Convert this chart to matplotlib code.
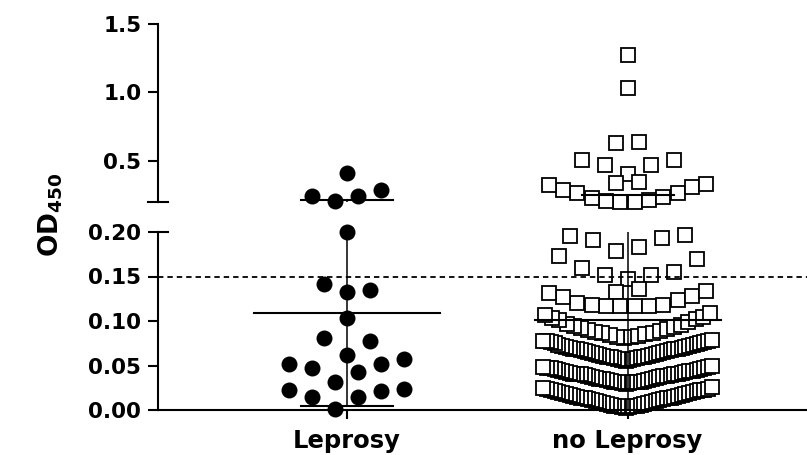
import matplotlib.pyplot as plt
import numpy as np

plt.rcParams['font.family'] = ['DejaVu Sans']
plt.rcParams['font.weight'] = 'bold'

categories = ['Leprosy', 'no Leprosy']
cutoff = 0.15

# rows of points as Prism lays them out (values, OD450)
lep_upper = [[0.415], [0.210, 0.244, 0.246, 0.288]]
lep_lower = [[0.200], [0.133, 0.135, 0.142], [0.103], [0.062, 0.078, 0.081],
             [0.032, 0.043, 0.047, 0.052, 0.052, 0.057],
             [0.001, 0.015, 0.015, 0.021, 0.023, 0.024]]

no_upper = [[1.273], [1.036], [0.631, 0.636], [0.406, 0.472, 0.472, 0.509, 0.509],
            [0.337, 0.349],
            [0.201, 0.201, 0.207, 0.215, 0.227, 0.239, 0.264, 0.264, 0.288, 0.308, 0.322, 0.330]]
no_row_a = [0.179, 0.183, 0.191, 0.193, 0.196, 0.197]
no_row_b = [0.147, 0.152, 0.152, 0.155, 0.159, 0.170, 0.173]
no_row_c = [0.133, 0.136]
no_row_d = [0.117, 0.117, 0.117, 0.117, 0.118, 0.118, 0.120, 0.124, 0.127, 0.128, 0.131, 0.134]
no_row_e = [0.081, 0.082, 0.082, 0.083, 0.084, 0.085, 0.086, 0.087, 0.088, 0.089, 0.090, 0.091,
            0.092, 0.093, 0.094, 0.095, 0.097, 0.099, 0.101, 0.102, 0.103, 0.105, 0.107, 0.109]
no_band1 = [0.055, 0.056, 0.056, 0.057, 0.057, 0.058, 0.058, 0.059, 0.059, 0.060, 0.060, 0.061,
            0.061, 0.062, 0.062, 0.063, 0.063, 0.064, 0.064, 0.065, 0.065, 0.066, 0.066, 0.067,
            0.067, 0.068, 0.068, 0.069, 0.069, 0.070, 0.070, 0.071, 0.071, 0.072, 0.072, 0.073,
            0.073, 0.074, 0.075, 0.075, 0.076, 0.076, 0.077, 0.077, 0.078, 0.079]
no_band2 = [0.029, 0.030, 0.030, 0.031, 0.031, 0.032, 0.032, 0.032, 0.033, 0.033, 0.034, 0.034,
            0.035, 0.035, 0.035, 0.036, 0.036, 0.037, 0.037, 0.038, 0.038, 0.038, 0.039, 0.039,
            0.040, 0.040, 0.041, 0.041, 0.041, 0.042, 0.042, 0.043, 0.043, 0.044, 0.044, 0.044,
            0.045, 0.045, 0.046, 0.046, 0.047, 0.047, 0.047, 0.048, 0.048, 0.049]
no_band3 = [0.002, 0.003, 0.003, 0.004, 0.004, 0.005, 0.005, 0.006, 0.006, 0.007, 0.007, 0.008,
            0.008, 0.009, 0.009, 0.010, 0.010, 0.011, 0.011, 0.012, 0.012, 0.013, 0.013, 0.014,
            0.014, 0.015, 0.015, 0.016, 0.016, 0.017, 0.017, 0.018, 0.018, 0.019, 0.019, 0.020,
            0.020, 0.021, 0.021, 0.022, 0.023, 0.023, 0.024, 0.024, 0.025, 0.026]
no_lower = [no_row_a, no_row_b, no_row_c, no_row_d, no_row_e, no_band1, no_band2, no_band3]

W, H = 807, 455
PX = 281.0  # pixels per category unit


def box(l, t, r, b):
    return [l / W, 1 - b / H, (r - l) / W, (b - t) / H]


def spread(rows, max_step, span):
    # lowest value of a row in the middle, then alternate outwards
    xs, ys = [], []
    for row in rows:
        vals = sorted(row)
        n = len(vals)
        step = min(max_step, span / n)
        for i, v in enumerate(vals):
            if n % 2:
                k = (i + 1) // 2
                off = k if i % 2 else -k
            else:
                off = (i // 2 + 0.5) * (1 if i % 2 else -1)
            xs.append(off * step)
            ys.append(v)
    return np.array(xs), np.array(ys)


fig = plt.figure(figsize=(8.07, 4.55), dpi=100)
ax_lo = fig.add_axes(box(158, 232, 807, 410))
ax_hi = fig.add_axes(box(158, 24, 807, 202))

for ax in (ax_lo, ax_hi):
    ax.set_xlim(-(346.5 - 158) / PX, (807 - 346.5) / PX)
    ax.spines['top'].set_visible(False)
    ax.spines['right'].set_visible(False)
    ax.spines['left'].set_linewidth(1.5)
    ax.spines['left'].set_zorder(6)
ax_lo.set_ylim(0, 0.2)
ax_hi.set_ylim(0.2, 1.5)
ax_hi.spines['bottom'].set_visible(False)
ax_lo.spines['bottom'].set_linewidth(1.5)
ax_lo.spines['bottom'].set_zorder(6)

step_max = 23 / PX
span = 172 / PX
for ax, lep_rows, no_rows in [(ax_lo, lep_lower, no_lower), (ax_hi, lep_upper, no_upper)]:
    xs, ys = spread(lep_rows, step_max, span)
    ax.plot(0 + xs, ys, 'o', ms=11.5, mfc='black', mec='black', mew=0,
            clip_on=False, zorder=3)
    xs, ys = spread(no_rows, step_max, span)
    ax.plot(1 + xs, ys, 's', ms=10.3, mfc='white', mec='black', mew=1.3,
            clip_on=False, zorder=3)

# mean +/- SD
groups = [sum(lep_upper + lep_lower, []), sum(no_upper + no_lower, [])]
for i, vals in enumerate(groups):
    m = np.mean(vals)
    s = np.std(vals, ddof=1)
    for ax in (ax_lo, ax_hi):
        ax.plot([i - 93 / PX, i + 93 / PX], [m, m], color='black', lw=1.5, zorder=4)
        ax.plot([i, i], [m - s, m + s], color='black', lw=1.1, zorder=4)
        for y in (m - s, m + s):
            ax.plot([i - 46 / PX, i + 46 / PX], [y, y], color='black', lw=1.5, zorder=4)

ax_lo.axhline(cutoff, color='black', lw=1.3, ls=(0, (3, 2.2)), zorder=4)

ax_lo.set_yticks([0, 0.05, 0.10, 0.15, 0.20])
ax_lo.set_yticklabels(['0.00', '0.05', '0.10', '0.15', '0.20'])
ax_hi.set_yticks([0.5, 1.0, 1.5])
ax_hi.set_yticklabels(['0.5', '1.0', '1.5'])
ax_hi.set_xticks([])
ax_lo.set_xticks([0, 1])
ax_lo.set_xticklabels(categories)
for ax in (ax_lo, ax_hi):
    ax.tick_params(axis='y', length=7, width=1.5, pad=5, labelsize=15.5)
ax_lo.tick_params(axis='x', length=6.5, width=1.5, pad=7, labelsize=17.5)

# axis break marks
brk = 10 / (807 - 158)
ax_lo.plot([0, brk], [0.2, 0.2], color='black', lw=1.5,
           transform=ax_lo.get_yaxis_transform(), clip_on=False, zorder=6)
ax_hi.plot([-brk, brk], [0.2, 0.2], color='black', lw=1.5,
           transform=ax_hi.get_yaxis_transform(), clip_on=False, zorder=6)

fig.text(51 / W, 1 - 215 / H, r'$\mathbf{OD}_{\mathbf{450}}$', rotation=90,
         fontsize=19, ha='center', va='center')

fig.savefig('out.png', dpi=100)
